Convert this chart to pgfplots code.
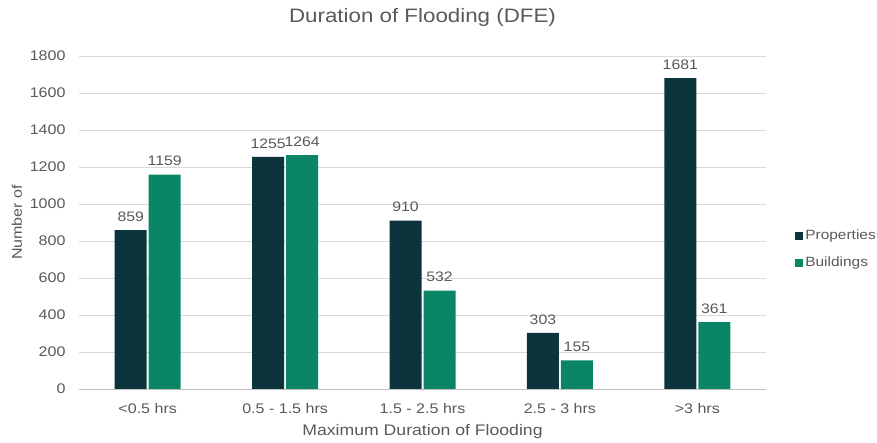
\documentclass[border=0pt]{standalone}
\usepackage{fontspec}
\setmainfont{Liberation Sans}[FakeStretch=1.15]
\usepackage{pgfplots}
\pgfplotsset{compat=1.18}
\definecolor{propcol}{HTML}{0B343C}
\definecolor{bldcol}{HTML}{0A8566}
\definecolor{txtgray}{HTML}{595959}
\definecolor{gridgray}{HTML}{D9D9D9}
\definecolor{axisgray}{HTML}{BFBFBF}
\begin{document}
\begin{tikzpicture}
\path[use as bounding box] (0,0) rectangle (877bp,443bp);
\begin{axis}[
  at={(79bp,54bp)}, anchor=south west,
  scale only axis, width=687bp, height=333bp,
  ymin=0, ymax=1800, ytick={0,200,...,1800},
  xmin=-0.5, xmax=4.5, xtick={0,...,4},
  xticklabels={<0.5 hrs, 0.5 - 1.5 hrs, 1.5 - 2.5 hrs, 2.5 - 3 hrs, >3 hrs},
  ybar, bar width=32bp,
  ymajorgrids, grid style={gridgray, line width=0.8pt},
  axis x line*=bottom, axis y line*=left,
  y axis line style={draw=none},
  x axis line style={-, draw=axisgray, line width=0.8pt},
  major tick length=0pt,
  tick label style={font=\fontsize{14}{16}\selectfont, text=txtgray},
  /pgf/number format/assume math mode=true,
  /pgf/number format/1000 sep={},
  yticklabel style={anchor=east, xshift=-10bp},
  xticklabel style={yshift=-11bp},
  title={Duration of Flooding (DFE)},
  title style={font=\fontsize{19.5}{23}\selectfont, text=txtgray, at={(0.5,1)}, anchor=center, yshift=33bp},
  xlabel={Maximum Duration of Flooding},
  xlabel style={font=\fontsize{15.4}{18}\selectfont, text=txtgray, at={(0.5,0)}, anchor=center, yshift=-43bp},
  ylabel={Number of},
  every axis y label/.style={at={(rel axis cs:0,0.5)}, rotate=90, anchor=center, yshift=62bp,
    font=\fontsize{14}{16}\selectfont, text=txtgray},
  nodes near coords,
  nodes near coords style={font=\fontsize{13.8}{16}\selectfont, text=txtgray, /pgf/number format/assume math mode=true, /pgf/number format/1000 sep={}, yshift=5bp},
  legend style={at={(rel axis cs:1.038,0.49)}, anchor=north west, draw=none, fill=none,
    font=\fontsize{13.5}{16}\selectfont, text=txtgray, row sep=12bp,
    /tikz/every even column/.append style={column sep=1bp}},
  legend cell align=left,
  legend image code/.code={\fill[#1] (0bp,-4bp) rectangle (8bp,4bp);},
]
\addplot[fill=propcol, draw=none, bar shift=-17bp] coordinates {(0,859) (1,1255) (2,910) (3,303) (4,1681)};
\addplot[fill=bldcol, draw=none, bar shift=17bp] coordinates {(0,1159) (1,1264) (2,532) (3,155) (4,361)};
\legend{Properties, Buildings}
\end{axis}
\end{tikzpicture}
\end{document}
